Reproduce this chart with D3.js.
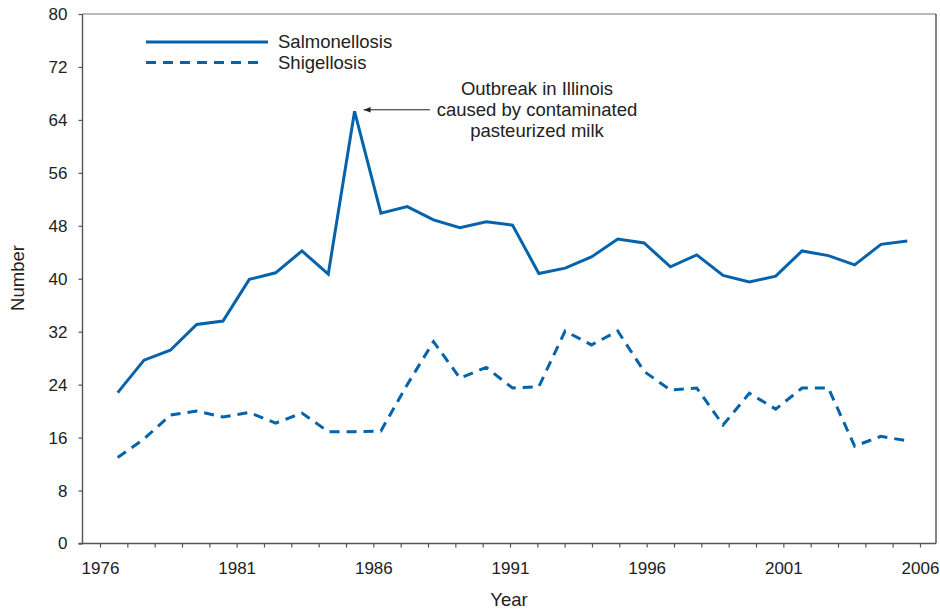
<!DOCTYPE html>
<html lang="en">
<head>
    <meta charset="UTF-8">
    <title>Salmonellosis and Shigellosis</title>
    <script src="https://d3js.org/d3.v7.min.js"></script>
    <style>
        * {
            margin: 0;
            padding: 0;
            box-sizing: border-box;
        }
        body {
            background: #fff;
            font-family: "Liberation Sans", Arial, Helvetica, sans-serif;
        }
        svg text {
            fill: #222;
        }
    </style>
</head>
<body>
    <div id="chart"></div>
    <script>
        // data, 1976-2006
        const years = d3.range(1976, 2007);
        const salmonellosis = [22.8, 27.7, 29.2, 33.1, 33.6, 39.9, 40.9, 44.2, 40.7, 65.3,
                               49.9, 50.9, 48.9, 47.7, 48.6, 48.1, 40.8, 41.6, 43.3, 46.0,
                               45.4, 41.8, 43.6, 40.5, 39.5, 40.4, 44.2, 43.5, 42.1, 45.2, 45.7];
        const shigellosis = [13.0, 15.8, 19.4, 20.0, 19.1, 19.8, 18.2, 19.7, 16.9, 16.9,
                             17.0, 24.0, 30.5, 25.0, 26.6, 23.5, 23.7, 32.1, 30.0, 32.1,
                             26.0, 23.2, 23.5, 17.9, 22.7, 20.3, 23.5, 23.5, 14.7, 16.2, 15.5];
        const yTicks = d3.range(0, 81, 8);
        const xLabels = [1976, 1981, 1986, 1991, 1996, 2001, 2006];
        const seriesNames = ["Salmonellosis", "Shigellosis"];
        const noteLines = ["Outbreak in Illinois", "caused by contaminated", "pasteurized milk"];

        const W = 940, H = 609;
        const plotLeft = 82.5, plotRight = 936, plotTop = 14, plotBottom = 543.5;
        const blue = "#0563ab";

        const svg = d3.select("#chart")
            .append("svg")
            .attr("width", W)
            .attr("height", H);

        // axis ticks and the plotted points don't line up in the original
        const xAxisScale = d3.scaleLinear().domain([1976, 2006]).range([100, 920]);
        const x = d3.scaleLinear().domain([1976, 2006]).range([117.7, 907.3]);
        const y = d3.scaleLinear().domain([0, 80]).range([plotBottom, plotTop]);

        // frame: top + right
        svg.append("line")
            .attr("x1", plotLeft).attr("x2", plotRight)
            .attr("y1", plotTop).attr("y2", plotTop)
            .attr("stroke", "#777").attr("stroke-width", 1.2);
        svg.append("line")
            .attr("x1", plotRight).attr("x2", plotRight)
            .attr("y1", plotTop).attr("y2", plotBottom)
            .attr("stroke", "#333").attr("stroke-width", 1.2);

        const yAxis = svg.append("g")
            .attr("transform", `translate(${plotLeft},0)`)
            .call(d3.axisLeft(y).tickValues(yTicks).tickSize(4).tickPadding(11));
        yAxis.select(".domain").attr("stroke", "#555").attr("stroke-width", 1.4)
            .attr("d", `M0,${plotTop}V${plotBottom}`);
        yAxis.selectAll(".tick line").attr("stroke", "#555").attr("stroke-width", 1.2);
        yAxis.selectAll("text")
            .style("font-size", "17px")
            .style("font-family", "'Liberation Sans', Arial, sans-serif")
            .attr("fill", "#222");

        const xAxis = svg.append("g")
            .attr("transform", `translate(0,${plotBottom})`)
            .call(d3.axisBottom(xAxisScale)
                .tickValues(years)
                .tickSize(4)
                .tickPadding(14)
                .tickFormat(d => xLabels.includes(d) ? d : ""));
        xAxis.select(".domain").attr("stroke", "#555").attr("stroke-width", 1.4)
            .attr("d", `M${plotLeft - 4},0H${plotRight}`);
        xAxis.selectAll(".tick line").attr("stroke", "#555").attr("stroke-width", 1.2);
        xAxis.selectAll("text")
            .style("font-size", "17px")
            .style("font-family", "'Liberation Sans', Arial, sans-serif")
            .attr("fill", "#222");

        svg.append("text")
            .attr("x", 509)
            .attr("y", 606)
            .attr("text-anchor", "middle")
            .style("font-size", "18.5px")
            .text("Year");

        svg.append("text")
            .attr("transform", "translate(24,278) rotate(-90)")
            .attr("text-anchor", "middle")
            .style("font-size", "18.5px")
            .text("Number");

        const line = d3.line()
            .x((d, i) => x(years[i]))
            .y(d => y(d));

        svg.append("path")
            .datum(salmonellosis)
            .attr("fill", "none")
            .attr("stroke", blue)
            .attr("stroke-width", 3)
            .attr("d", line);

        svg.append("path")
            .datum(shigellosis)
            .attr("fill", "none")
            .attr("stroke", blue)
            .attr("stroke-width", 3)
            .attr("stroke-dasharray", "10,7")
            .attr("d", line);

        // legend
        const legend = svg.append("g");
        seriesNames.forEach((name, i) => {
            const ly = 42 + i * 20.5;
            legend.append("line")
                .attr("x1", 146).attr("x2", i === 0 ? 268 : 262)
                .attr("y1", ly).attr("y2", ly)
                .attr("stroke", blue)
                .attr("stroke-width", 3)
                .attr("stroke-dasharray", i === 0 ? null : "10,7");
            legend.append("text")
                .attr("x", 278)
                .attr("y", ly + 6)
                .style("font-size", "18.5px")
                .text(name);
        });

        // annotation for the 1985 peak
        const peakX = x(1985), peakY = y(salmonellosis[9]);
        svg.append("defs").append("marker")
            .attr("id", "arrow")
            .attr("viewBox", "0 0 10 10")
            .attr("refX", 10).attr("refY", 5)
            .attr("markerWidth", 7).attr("markerHeight", 7)
            .attr("orient", "auto")
            .append("path")
            .attr("d", "M0,1L10,5L0,9Z")
            .attr("fill", "#222");

        svg.append("line")
            .attr("x1", 430).attr("x2", peakX + 9)
            .attr("y1", peakY - 1.5).attr("y2", peakY - 1.5)
            .attr("stroke", "#222")
            .attr("stroke-width", 1)
            .attr("marker-end", "url(#arrow)");

        svg.append("g")
            .selectAll("text")
            .data(noteLines)
            .join("text")
            .attr("x", 537)
            .attr("y", (d, i) => 95 + i * 21)
            .attr("text-anchor", "middle")
            .style("font-size", "18.5px")
            .text(d => d);
    </script>
</body>
</html>
